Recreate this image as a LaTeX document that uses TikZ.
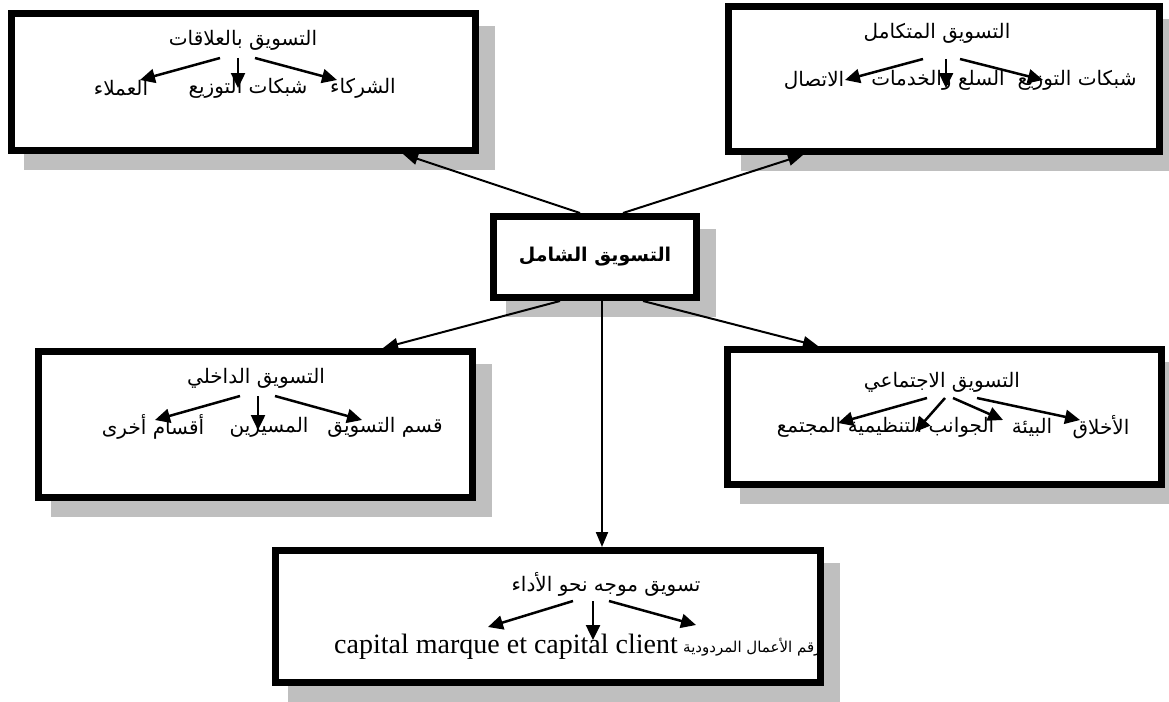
\documentclass[tikz,border=0pt]{standalone}
\usepackage{fontspec}
\setmainfont{Liberation Serif}
\newfontfamily\arabicfont[Script=Arabic]{DejaVu Sans}
\TeXXeTstate=1
\usepackage{tikz}
\usetikzlibrary{arrows.meta,backgrounds,calc}
\newcommand{\artxt}[1]{{\arabicfont\beginR #1\endR}}

\begin{document}
\begin{tikzpicture}[x=1pt,y=-1pt,
  kasten/.style={draw,line width=7pt,fill=white,inner sep=0pt},
  schatten/.style={fill=black!25},
  txt/.style={inner sep=1pt,font=\fontsize{20}{24}\selectfont},
  pfeil/.style={line width=2pt,-{Triangle[length=15pt,width=12pt]}},
  pfeilk/.style={line width=2.5pt,-{Triangle[length=15pt,width=14pt]}}]
\useasboundingbox (0,0) rectangle (1169,701);

\node[kasten,minimum width=464pt,minimum height=137pt] (rel) at (243.5,82) {};
\node[kasten,minimum width=431pt,minimum height=145pt] (int) at (944,79) {};
\node[kasten,minimum width=203pt,minimum height=81pt,font=\fontsize{19}{23}\selectfont\bfseries] (zen) at (595,257) {\artxt{التسويق الشامل}};
\node[kasten,minimum width=434pt,minimum height=146pt] (inn) at (255.5,424.5) {};
\node[kasten,minimum width=434pt,minimum height=135pt] (soz) at (944.5,417) {};
\node[kasten,minimum width=545pt,minimum height=132pt] (lei) at (548,616.5) {};
\begin{scope}[on background layer]
\foreach \n in {rel,int,zen,inn,soz,lei}
  \fill[schatten] ($(\n.north west)+(16,16)$) rectangle ($(\n.south east)+(16,16)$);
\end{scope}

\node[txt] (tRel) at (243,40) {\artxt{التسويق بالعلاقات}};
\node[txt] (rel1) at (363,88) {\artxt{الشركاء}};
\node[txt] (rel2) at (248,88) {\artxt{شبكات التوزيع}};
\node[txt] (rel3) at (121,88) {\artxt{العملاء}};
\draw[pfeilk] ($(tRel.center)+(-23,18)$) -- ($(rel3.center)+(19,-8)$);
\draw[pfeilk] ($(tRel.center)+(-5,18)$) -- ($(rel2.center)+(-10,0)$);
\draw[pfeilk] ($(tRel.center)+(12,18)$) -- ($(rel1.center)+(-26,-8)$);

\node[txt] (tInt) at (937,33) {\artxt{التسويق المتكامل}};
\node[txt] (int1) at (1077,80) {\artxt{شبكات التوزيع}};
\node[txt] (int2) at (938,80) {\artxt{السلع والخدمات}};
\node[txt] (int3) at (814,80) {\artxt{الاتصال}};
\draw[pfeilk] ($(tInt.center)+(-14,26)$) -- ($(int3.center)+(31,0)$);
\draw[pfeilk] ($(tInt.center)+(9,26)$) -- ($(int2.center)+(8,8)$);
\draw[pfeilk] ($(tInt.center)+(23,26)$) -- ($(int1.center)+(-34,0)$);

\node[txt] (tInn) at (256,378) {\artxt{التسويق الداخلي}};
\node[txt] (inn1) at (385,427) {\artxt{قسم التسويق}};
\node[txt] (inn2) at (269,427) {\artxt{المسيرين}};
\node[txt] (inn3) at (153,427) {\artxt{أقسام أخرى}};
\draw[pfeilk] ($(tInn.center)+(-16,18)$) -- ($(inn3.center)+(2,-7)$);
\draw[pfeilk] ($(tInn.center)+(2,18)$) -- ($(inn2.center)+(-11,3)$);
\draw[pfeilk] ($(tInn.center)+(19,18)$) -- ($(inn1.center)+(-23,-7)$);

\node[txt] (tSoz) at (942,382) {\artxt{التسويق الاجتماعي}};
\node[txt] (soz1) at (1101,427) {\artxt{الأخلاق}};
\node[txt] (soz2) at (1032,427) {\artxt{البيئة}};
\node[txt] (soz3) at (921,427) {\artxt{الجوانب التنظيمية}};
\node[txt] (soz4) at (809,427) {\artxt{المجتمع}};
\draw[pfeilk] ($(tSoz.center)+(-15,16)$) -- ($(soz4.center)+(29,-4)$);
\draw[pfeilk] ($(tSoz.center)+(3,16)$) -- ($(soz3.center)+(-6,5)$);
\draw[pfeilk] ($(tSoz.center)+(11,16)$) -- ($(soz2.center)+(-29,-7)$);
\draw[pfeilk] ($(tSoz.center)+(35,16)$) -- ($(soz1.center)+(-21,-7)$);

\node[txt] (tLei) at (606,584) {\artxt{تسويق موجه نحو الأداء}};
\node[txt,font=\fontsize{28}{32}\selectfont] (lei1) at (506,647) {capital marque et capital client};
\node[txt,font=\fontsize{15}{18}\selectfont,anchor=west] (lei2) at (682,647) {\artxt{رقم الأعمال المردودية}};
\draw[pfeilk] ($(tLei.center)+(-33,17)$) -- ($(lei1.center)+(-18,-20)$);
\draw[pfeilk] ($(tLei.center)+(-13,17)$) -- ($(lei1.center)+(87,-7)$);
\draw[pfeilk] ($(tLei.center)+(3,17)$) -- ($(lei2.west)+(14,-22)$);

\draw[pfeil] ($(zen.north)+(-15,0)$) -- ($(rel.south)+(159.5,0)$);
\draw[pfeil] ($(zen.north)+(28,0)$) -- ($(int.south)+(-141,0)$);
\draw[pfeil] ($(zen.south)+(-35,0)$) -- ($(inn.north)+(127.5,0)$);
\draw[pfeil] ($(zen.south)+(48,0)$) -- ($(soz.north)+(-126.5,0)$);
\draw[pfeil] ($(zen.south)+(7,0)$) -- ($(lei.north)+(54,0)$);
\end{tikzpicture}
\end{document}
